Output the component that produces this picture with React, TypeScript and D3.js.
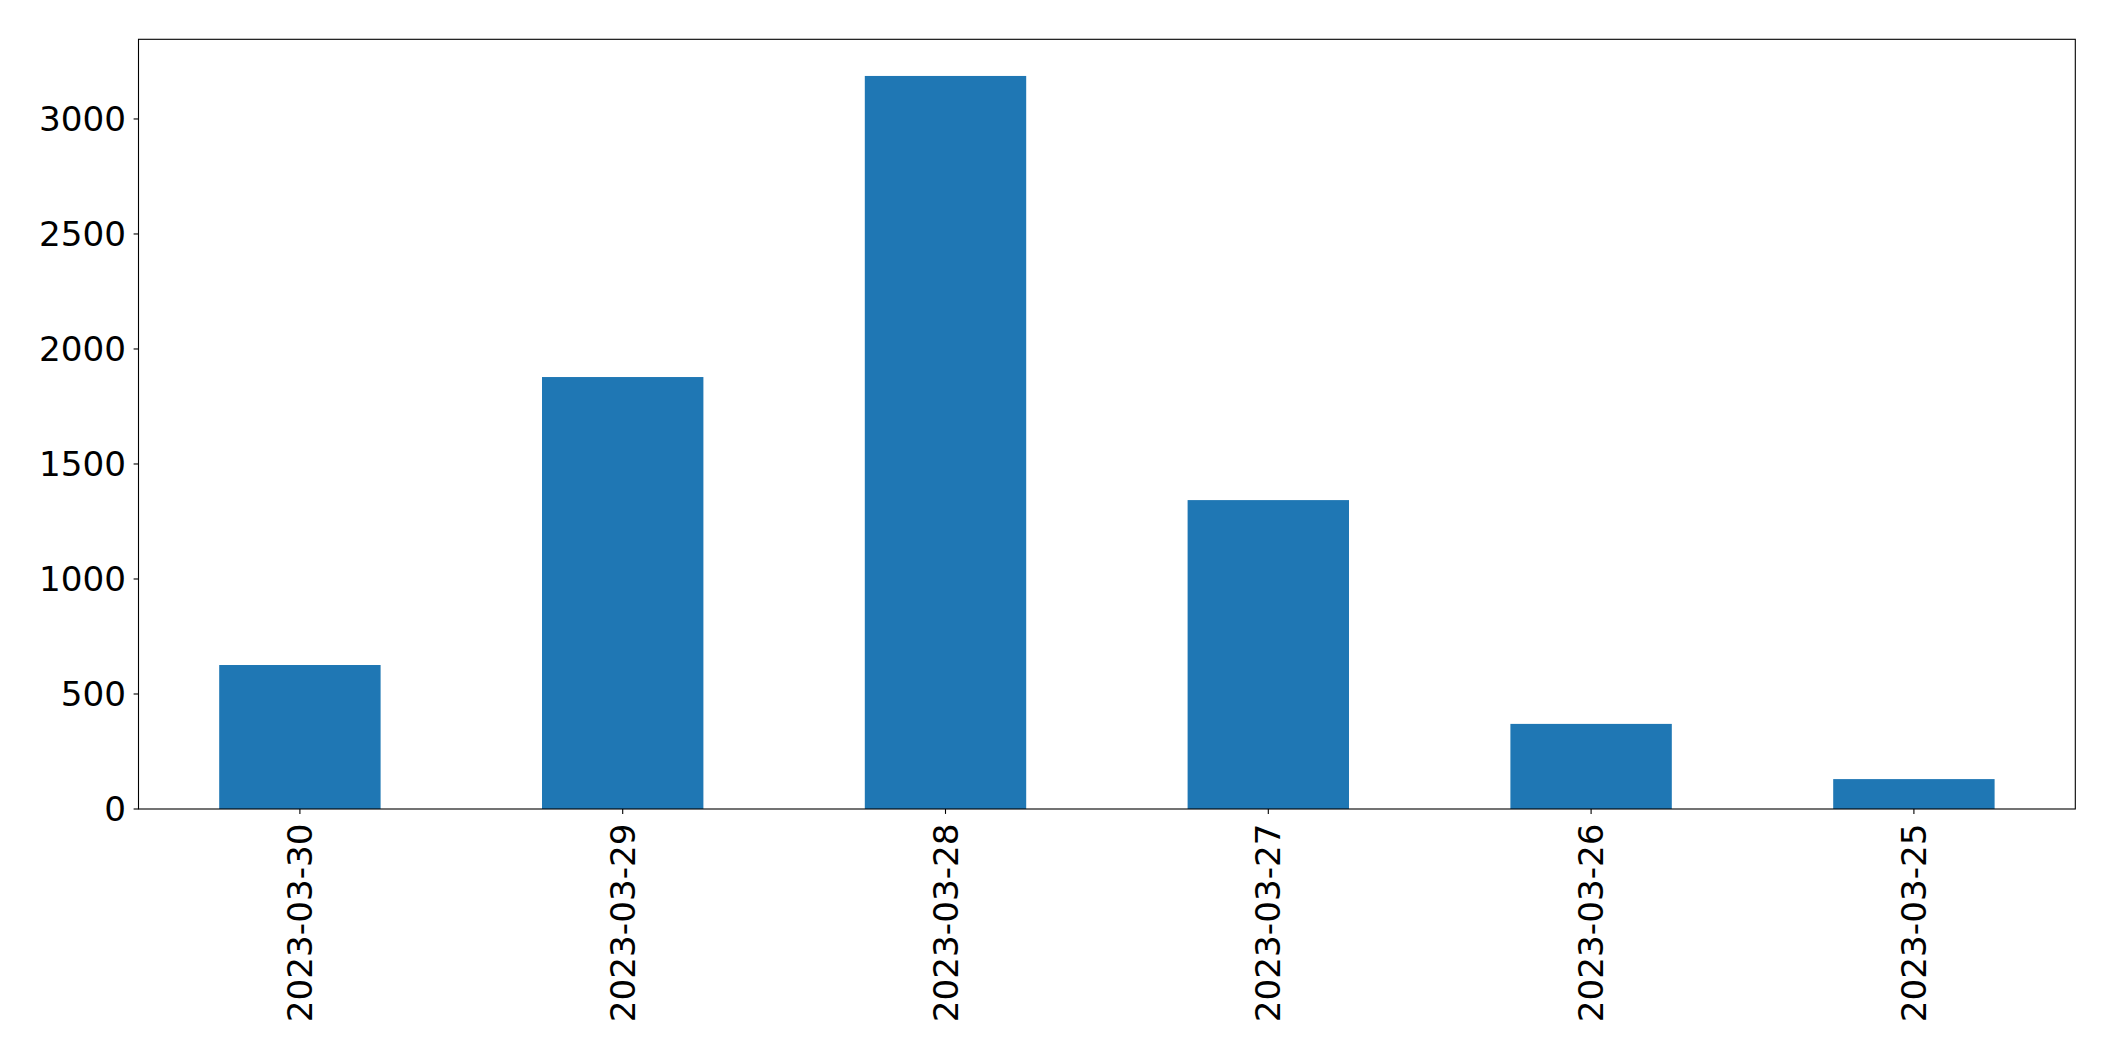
import React from "react";
import * as d3 from "d3";

const categories = ["2023-03-30", "2023-03-29", "2023-03-28", "2023-03-27", "2023-03-26", "2023-03-25"];
const values = [626, 1878, 3187, 1343, 370, 130];
const yTicks = [0, 500, 1000, 1500, 2000, 2500, 3000];

const W = 2115;
const H = 1061;
const left = 138.5;
const right = 2075.3;
const top = 39.3;
const bottom = 809;
const fontSize = 34.2;
const color = "#1f77b4";

export default function App() {
  const maxV = d3.max(values) as number;
  const y = d3.scaleLinear().domain([0, maxV * 1.05]).range([bottom, top]);
  const x = d3.scaleLinear().domain([-0.5, categories.length - 0.5]).range([left, right]);
  const barW = 0.5;
  return (
    <svg width={W} height={H} style={{ position: "absolute", left: 0, top: 0, background: "#fff" }}
      fontFamily="'DejaVu Sans', sans-serif">
      <rect x={0} y={0} width={W} height={H} fill="#fff" />
      {values.map((v, i) => (
        <rect key={i} x={x(i - barW / 2)} y={y(v)} width={x(i + barW / 2) - x(i - barW / 2)}
          height={y(0) - y(v)} fill={color} />
      ))}
      <rect x={left} y={top} width={right - left} height={bottom - top} fill="none" stroke="#000" strokeWidth={1.1} />
      {yTicks.map((t) => (
        <g key={t}>
          <line x1={left - 4.9} x2={left} y1={y(t)} y2={y(t)} stroke="#000" strokeWidth={1.1} />
          <text x={left - 12.5} y={y(t)} textAnchor="end" dominantBaseline="central" fontSize={fontSize} fill="#000">
            {t}
          </text>
        </g>
      ))}
      {categories.map((c, i) => (
        <g key={c}>
          <line x1={x(i)} x2={x(i)} y1={bottom} y2={bottom + 4.9} stroke="#000" strokeWidth={1.1} />
          <text transform={`translate(${x(i)},${bottom + 14.5}) rotate(-90)`} textAnchor="end"
            dominantBaseline="central" fontSize={fontSize} fill="#000">
            {c}
          </text>
        </g>
      ))}
    </svg>
  );
}
